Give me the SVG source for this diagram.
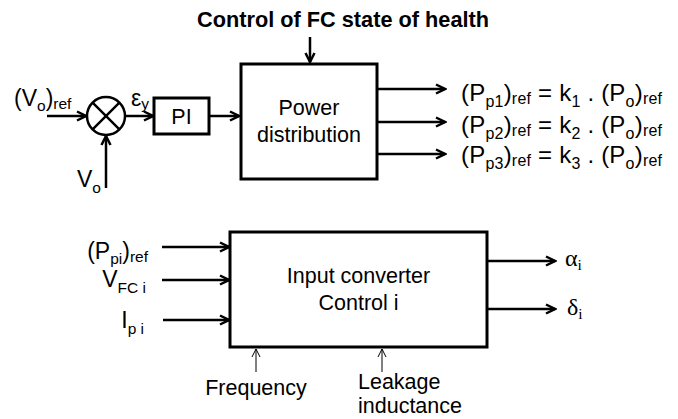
<svg xmlns="http://www.w3.org/2000/svg" width="678" height="419" viewBox="0 0 678 419">
<style>
text{font-family:"Liberation Sans",Arial,sans-serif;font-size:21.5px;fill:#000}
.b{font-weight:bold}
.g{font-family:"Liberation Serif","Times New Roman",serif;font-size:24px}
.box{fill:#fff;stroke:#000;stroke-width:3}
.ln{fill:none;stroke:#000;stroke-width:2.5}
.thin{fill:none;stroke:#000;stroke-width:1}
.s{font-size:15.5px}
.l{font-size:23px}
.f{font-size:24px}
.fs{font-size:16px}
</style>
<defs>
<marker id="ah" viewBox="0 0 12 12" refX="10" refY="6" markerWidth="12" markerHeight="12" markerUnits="userSpaceOnUse" orient="auto">
<path d="M1,1.5 L10,6 L1,10.5" fill="none" stroke="#000" stroke-width="2.5"/>
</marker>
<marker id="aht" viewBox="0 0 10 10" refX="9" refY="5" markerWidth="10" markerHeight="10" markerUnits="userSpaceOnUse" orient="auto">
<path d="M1,1 L9,5 L1,9" fill="none" stroke="#000" stroke-width="1"/>
</marker>
</defs>

<text class="b" x="343" y="27" text-anchor="middle" textLength="292" lengthAdjust="spacingAndGlyphs">Control of FC state of health</text>

<g id="sum">
<circle cx="106" cy="116" r="19" fill="#fff" stroke="#000" stroke-width="2.5"/>
<path d="M92.6,102.6 L119.4,129.4 M119.4,102.6 L92.6,129.4" class="ln"/>
</g>

<g id="pi">
<rect x="154" y="98" width="55" height="36" class="box"/>
<text x="181.5" y="124" text-anchor="middle">PI</text>
</g>

<g id="power">
<rect x="241" y="64" width="136" height="115" class="box"/>
<text x="309" y="115" text-anchor="middle">Power</text>
<text x="309" y="142" text-anchor="middle">distribution</text>
</g>

<g id="conv">
<rect x="230" y="232" width="257" height="115" class="box"/>
<text x="358.5" y="283" text-anchor="middle">Input converter</text>
<text x="358.5" y="310" text-anchor="middle">Control i</text>
</g>

<g id="connectors">
<line x1="310" y1="37" x2="310" y2="62" class="ln" marker-end="url(#ah)"/>
<line x1="47" y1="116" x2="86" y2="116" class="ln" marker-end="url(#ah)"/>
<line x1="106" y1="188" x2="106" y2="136" class="ln" marker-end="url(#ah)"/>
<line x1="125" y1="116" x2="153" y2="116" class="ln" marker-end="url(#ah)"/>
<line x1="209" y1="116" x2="239" y2="116" class="ln" marker-end="url(#ah)"/>
<line x1="377" y1="89" x2="445" y2="89" class="ln" marker-end="url(#ah)"/>
<line x1="377" y1="122" x2="445" y2="122" class="ln" marker-end="url(#ah)"/>
<line x1="377" y1="154" x2="445" y2="154" class="ln" marker-end="url(#ah)"/>
<line x1="162" y1="247" x2="229" y2="247" class="ln" marker-end="url(#ah)"/>
<line x1="162" y1="280" x2="229" y2="280" class="ln" marker-end="url(#ah)"/>
<line x1="163" y1="320" x2="229" y2="320" class="ln" marker-end="url(#ah)"/>
<line x1="487" y1="261" x2="555" y2="261" class="ln" marker-end="url(#ah)"/>
<line x1="487" y1="309" x2="555" y2="309" class="ln" marker-end="url(#ah)"/>
<line x1="256" y1="372" x2="256" y2="349" class="thin" marker-end="url(#aht)"/>
<line x1="382" y1="372" x2="382" y2="349" class="thin" marker-end="url(#aht)"/>
</g>

<g id="labels">
<text class="l" x="14" y="106">(V<tspan class="s" dy="5">o</tspan><tspan dy="-5">)</tspan><tspan class="s" dy="3">ref</tspan></text>
<text class="l" x="77" y="187">V<tspan class="s" dy="6">o</tspan></text>
<text class="l" x="131" y="106">ε<tspan class="s" dy="3">y</tspan></text>

<text class="f" x="461" y="101" textLength="201">(P<tspan class="fs" dy="6">p1</tspan><tspan dy="-6">)</tspan><tspan class="fs" dy="3">ref</tspan><tspan dy="-3"> = k</tspan><tspan class="fs" dy="6">1</tspan><tspan dy="-6"> . (P</tspan><tspan class="fs" dy="6">o</tspan><tspan dy="-6">)</tspan><tspan class="fs" dy="3">ref</tspan></text>
<text class="f" x="461" y="133" textLength="201">(P<tspan class="fs" dy="6">p2</tspan><tspan dy="-6">)</tspan><tspan class="fs" dy="3">ref</tspan><tspan dy="-3"> = k</tspan><tspan class="fs" dy="6">2</tspan><tspan dy="-6"> . (P</tspan><tspan class="fs" dy="6">o</tspan><tspan dy="-6">)</tspan><tspan class="fs" dy="3">ref</tspan></text>
<text class="f" x="461" y="163" textLength="201">(P<tspan class="fs" dy="6">p3</tspan><tspan dy="-6">)</tspan><tspan class="fs" dy="3">ref</tspan><tspan dy="-3"> = k</tspan><tspan class="fs" dy="6">3</tspan><tspan dy="-6"> . (P</tspan><tspan class="fs" dy="6">o</tspan><tspan dy="-6">)</tspan><tspan class="fs" dy="3">ref</tspan></text>

<text class="l" x="148" y="259" text-anchor="end">(P<tspan class="s" dy="5">pi</tspan><tspan dy="-5">)</tspan><tspan class="s" dy="3">ref</tspan></text>
<text class="l" x="146" y="287" text-anchor="end">V<tspan class="s" dy="6">FC i</tspan></text>
<text class="l" x="144" y="328" text-anchor="end">I<tspan class="s" dy="6">p i</tspan></text>

<text class="g" x="565" y="266">α<tspan class="s" dy="4">i</tspan></text>
<text class="g" x="567" y="315">δ<tspan class="s" dy="4">i</tspan></text>

<text x="256" y="395" text-anchor="middle">Frequency</text>
<text x="358" y="389">Leakage</text>
<text x="358" y="413">inductance</text>
</g>
</svg>
